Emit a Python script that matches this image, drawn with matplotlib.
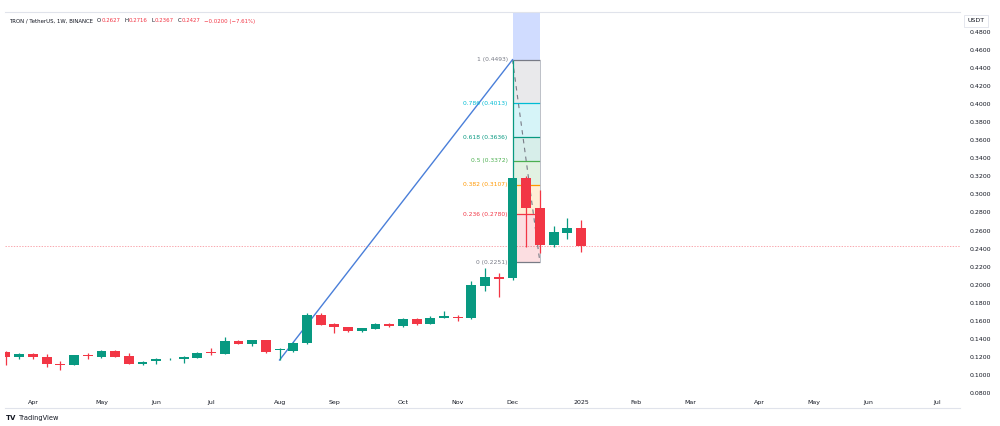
import matplotlib.pyplot as plt
import pandas as pd

# Weekly TRX/USDT candles, first visible bar is 2024-03-18
start_date = '2024-03-18'
opens = [0.1258, 0.1203, 0.1233, 0.1203, 0.1126, 0.1115, 0.1222, 0.1203, 0.1269, 0.1210,
         0.1126, 0.1155, 0.1174, 0.1174, 0.1189, 0.1251, 0.1236, 0.1374, 0.1344, 0.1385,
         0.1277, 0.1270, 0.1351, 0.1665, 0.1565, 0.1528, 0.1491, 0.1513, 0.1565, 0.1543,
         0.1620, 0.1565, 0.1635, 0.1646, 0.1628, 0.1989, 0.2082, 0.2071, 0.3186, 0.2854,
         0.2440, 0.2576, 0.2627]
highs = [0.1266, 0.1240, 0.1240, 0.1233, 0.1158, 0.1222, 0.1247, 0.1277, 0.1277, 0.1240,
         0.1155, 0.1185, 0.1192, 0.1207, 0.1250, 0.1303, 0.1418, 0.1385, 0.1392, 0.1392,
         0.1300, 0.1369, 0.1690, 0.1683, 0.1573, 0.1535, 0.1525, 0.1572, 0.1572, 0.1630,
         0.1628, 0.1657, 0.1705, 0.1668, 0.2045, 0.2182, 0.2126, 0.4493, 0.3200, 0.3049,
         0.2650, 0.2736, 0.2716]
lows = [0.1111, 0.1180, 0.1174, 0.1085, 0.1055, 0.1110, 0.1180, 0.1184, 0.1203, 0.1120,
        0.1115, 0.1118, 0.1163, 0.1133, 0.1185, 0.1218, 0.1229, 0.1340, 0.1325, 0.1240,
        0.1166, 0.1259, 0.1344, 0.1550, 0.1462, 0.1480, 0.1480, 0.1505, 0.1530, 0.1535,
        0.1555, 0.1560, 0.1628, 0.1601, 0.1620, 0.1933, 0.1867, 0.2054, 0.2415, 0.2348,
        0.2415, 0.2507, 0.2367]
closes = [0.1203, 0.1233, 0.1203, 0.1126, 0.1115, 0.1218, 0.1215, 0.1269, 0.1203, 0.1126,
          0.1148, 0.1174, 0.1180, 0.1196, 0.1244, 0.1244, 0.1377, 0.1344, 0.1385, 0.1258,
          0.1284, 0.1351, 0.1665, 0.1554, 0.1535, 0.1491, 0.1517, 0.1565, 0.1539, 0.1620,
          0.1561, 0.1635, 0.1650, 0.1632, 0.1997, 0.2082, 0.2063, 0.3186, 0.2854, 0.2440,
          0.2580, 0.2625, 0.2427]

# Fibonacci retracement (Dec 2 high -> Dec 16 low) and the trend line
fib_ratios = [1, 0.786, 0.618, 0.5, 0.382, 0.236, 0]
fib_values = [0.4493, 0.4013, 0.3636, 0.3372, 0.3107, 0.2780, 0.2251]
fib_colors = ['#787b86', '#00bcd4', '#089981', '#4caf50', '#ff9800', '#f23645', '#787b86']
fib_start, fib_end = 37, 39          # bar index of the two anchor points
trend_x = [20, 37]
trend_y = [0.1166, 0.4493]
last_price = 0.2427

price_ticks = [round(0.08 + 0.02 * i, 2) for i in range(21)]

UP = '#089981'
DOWN = '#f23645'

n = len(opens)
xs = list(range(n))
x_min, x_max = -0.04, 69.66
# weeks continue into 2025 (empty future part of the chart)
weeks = pd.date_range(start_date, periods=70, freq='W-MON')
tick_pos, tick_lab = [], []
for i in range(1, len(weeks)):
    if weeks[i].month != weeks[i - 1].month and i < x_max:
        tick_pos.append(i)
        tick_lab.append(str(weeks[i].year) if weeks[i].month == 1 else weeks[i].strftime('%b'))

fig = plt.figure(figsize=(10, 4.26), dpi=100)
ax = fig.add_axes([0.005, 0.0704, 0.955, 0.9014])

# candles
for x, o, h, l, c in zip(xs, opens, highs, lows, closes):
    col = UP if c >= o else DOWN
    ax.vlines(x, l, h, color=col, linewidth=0.9, zorder=4)
    ax.bar(x, max(abs(c - o), 0.0006), bottom=min(o, c), width=0.72, color=col, zorder=5, linewidth=0)

# fib box fills
top = 0.5021
ax.fill_between([fib_start, fib_end], fib_values[0], top, color='#2962ff', alpha=0.22, linewidth=0, zorder=1)
for i in range(len(fib_values) - 1):
    ax.fill_between([fib_start, fib_end], fib_values[i + 1], fib_values[i], color=fib_colors[i],
                    alpha=0.16, linewidth=0, zorder=1)
for r, v, col in zip(fib_ratios, fib_values, fib_colors):
    ax.hlines(v, fib_start, fib_end, color=col, linewidth=0.9, zorder=2)
    ax.text(fib_start - 0.35, v, f'{r} ({v:.4f})', color=col, fontsize=4.3, ha='right', va='center', zorder=6)
ax.vlines(fib_end, fib_values[-1], fib_values[0], color='#b2b5be', linewidth=0.6, zorder=2)
ax.plot([fib_start, fib_end], [fib_values[0], fib_values[-1]], color='#787b86', linestyle=(0, (4, 4)),
        linewidth=0.8, zorder=3)

# trend line
ax.plot(trend_x, trend_y, color='#4a7fd9', linewidth=1.0, zorder=3)

# last price line
ax.axhline(last_price, color='#f23645', linestyle=(0, (2, 2)), linewidth=0.5, alpha=0.6, zorder=1)

ax.yaxis.tick_right()
ax.set_yticks(price_ticks)
ax.set_yticklabels([f'{t:.4f}' for t in price_ticks])
ax.set_xticks(tick_pos)
ax.set_xticklabels(tick_lab)
ax.set_xlim(x_min, x_max)
ax.set_ylim(0.0767, top)
ax.tick_params(axis='both', length=0, labelsize=4.5, colors='#131722')
ax.tick_params(axis='y', pad=7)
ax.tick_params(axis='x', pad=3)
for s in ['left', 'right', 'bottom']:
    ax.spines[s].set_visible(False)
ax.spines['top'].set_color('#e0e3eb')
ax.spines['top'].set_linewidth(0.8)

# bottom border of the time scale
fig.add_artist(plt.Line2D([0.005, 0.96], [1 - 408 / 426] * 2, color='#e0e3eb', linewidth=0.8))

# header, pieces chained one after another
hy = 1 - 21 / 426
dark = '#131722'
red = '#f23645'
prev = fig.text(0.009, hy, 'TRON / TetherUS, 1W, BINANCE', fontsize=3.9, color=dark, va='center')
for txt, col, gap in [('O', dark, 3), ('0.2627', red, 0), ('H', dark, 3), ('0.2716', red, 0),
                      ('L', dark, 3), ('0.2367', red, 0), ('C', dark, 3), ('0.2427', red, 0),
                      ('\u22120.0200 (\u22127.61%)', red, 3)]:
    prev = ax.annotate(txt, xy=(1, 0.5), xycoords=prev, xytext=(gap, 0), textcoords='offset points',
                       fontsize=3.9, color=col, va='center', ha='left', annotation_clip=False)

# currency label over the price scale
fig.text(0.976, 1 - 21 / 426, 'USDT', fontsize=4.5, color=dark, ha='center', va='center',
         bbox=dict(boxstyle='square,pad=0.5', facecolor='white', edgecolor='#e0e3eb', linewidth=0.6))

# watermark
fig.text(0.006, 1 - 418 / 426, 'TV', fontsize=5, color=dark, fontweight='bold', va='center')
fig.text(0.019, 1 - 418 / 426, 'TradingView', fontsize=4.8, color=dark, va='center')

fig.savefig('out.png', dpi=100, facecolor='white')
